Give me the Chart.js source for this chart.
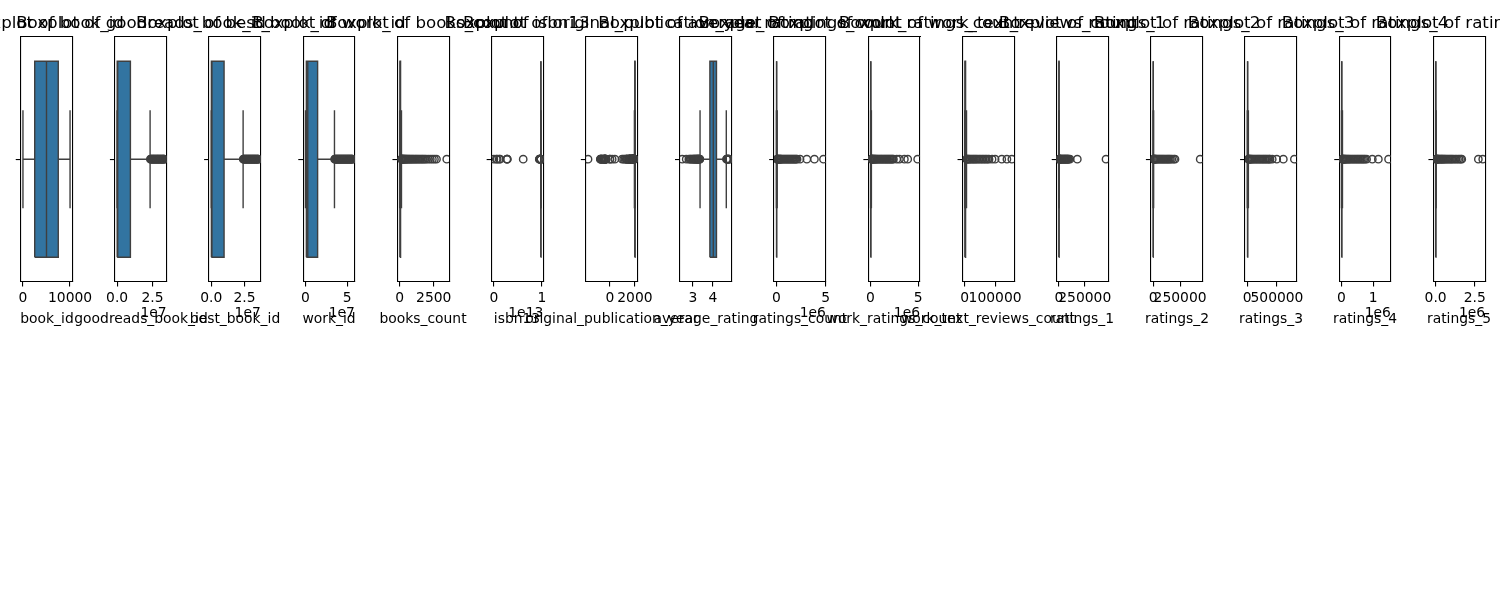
<!DOCTYPE html>
<html>
<head>
<meta charset="utf-8">
<script src="https://cdn.jsdelivr.net/npm/chart.js@4.4.0/dist/chart.umd.min.js"></script>
<style>
html,body{margin:0;padding:0;background:#fff;overflow:hidden;width:1500px;height:600px;}
#wrap{position:relative;width:1500px;height:600px;overflow:hidden;}
#wrap canvas{position:absolute;top:0;}
</style>
</head>
<body>
<div id="wrap"></div>
<script>
// ---------------- data ----------------
const columns = ['book_id','goodreads_book_id','best_book_id','work_id','books_count','isbn13',
  'original_publication_year','average_rating','ratings_count','work_ratings_count',
  'work_text_reviews_count','ratings_1','ratings_2','ratings_3','ratings_4','ratings_5'];

const whiskerLow  = [1, 1, 1, 87, 1, 9779540000000, 1959, 3.36, 2716, 5510, 3, 11, 30, 323, 750, 754];
const q1Values    = [2500, 46275, 47911, 1008841, 23, 9780316000000, 1990, 3.85, 13568, 15438, 694, 196, 656, 3112, 5405, 5334];
const medianValues= [5000, 394965, 425123, 2719524, 40, 9780452000000, 2004, 4.02, 21155, 23832, 1402, 391, 1163, 4894, 8269, 8836];
const q3Values    = [7500, 9382225, 9636112, 14517750, 67, 9780831000000, 2011, 4.18, 41053, 45915, 2744, 885, 2353, 9287, 16023, 17304];
const whiskerHigh = [10000, 23300000, 24000000, 34700000, 133, 9781600000000, 2017, 4.67, 82000, 91500, 5800, 1915, 4890, 18540, 31900, 35200];

const outliers0 = [];
const outliers1 = [23500000, 23900000, 24300000, 24700000, 25100000, 25500000, 25900000, 26300000, 26700000, 27100000,
  27500000, 27900000, 28300000, 28700000, 29100000, 29500000, 29900000, 30300000, 30700000, 31100000, 31500000,
  31900000, 32300000, 32700000, 33100000, 33288638];
const outliers2 = [24100000, 24500000, 24900000, 25300000, 25700000, 26100000, 26500000, 26900000, 27300000, 27700000,
  28100000, 28500000, 28900000, 29300000, 29700000, 30100000, 30500000, 30900000, 31300000, 31700000, 32100000,
  32500000, 32900000, 33300000, 33700000, 34100000, 34500000, 34900000, 35300000, 35534230];
const outliers3 = [34900000, 35500000, 36100000, 36700000, 37300000, 37900000, 38500000, 39100000, 39700000, 40300000,
  40900000, 41500000, 42100000, 42700000, 43300000, 43900000, 44500000, 45100000, 45700000, 46300000, 46900000,
  47500000, 48100000, 48700000, 49300000, 49900000, 50500000, 51100000, 51700000, 52300000, 52900000, 53500000,
  54100000, 54700000, 55300000, 55900000, 56399597];
const outliers4 = [135, 150, 170, 190, 215, 240, 270, 300, 340, 380, 420, 470, 520, 580, 640, 700, 770, 840, 910, 980,
  1060, 1140, 1220, 1300, 1390, 1480, 1570, 1660, 1750, 1850, 1950, 2100, 2250, 2400, 2550, 2700, 3455];
const outliers5 = [195000000, 500000000000, 700000000000, 1100000000000, 1300000000000, 2700000000000, 2750000000000,
  2800000000000, 6100000000000, 9450000000000, 9500000000000, 9550000000000, 9600000000000, 9650000000000,
  9700000000000, 9740000000000, 9770000000000, 9779000000000, 9782000000000, 9785000000000, 9790000000000];
const outliers6 = [-1750, -762, -750, -720, -700, -650, -600, -560, -500, -458, -441, -430, -411, -400, -385, -380,
  -350, -335, -300, -17, 8, 180, 397, 975, 1100, 1200, 1308, 1320, 1353, 1380, 1390, 1485, 1513, 1516, 1532, 1550,
  1580, 1595, 1600, 1605, 1615, 1623, 1650, 1667, 1678, 1700, 1719, 1726, 1740, 1750, 1759, 1770, 1782, 1790, 1800,
  1811, 1813, 1818, 1826, 1831, 1838, 1847, 1850, 1856, 1860, 1865, 1870, 1877, 1880, 1886, 1890, 1895, 1900, 1905,
  1910, 1915, 1920, 1925, 1930, 1935, 1940, 1945, 1950, 1955, 1958];
const outliers7 = [2.47, 2.67, 2.8, 2.86, 2.9, 2.95, 3.0, 3.03, 3.06, 3.09, 3.12, 3.15, 3.18, 3.2, 3.22, 3.24, 3.26,
  3.28, 3.3, 3.32, 3.34, 3.35, 4.68, 4.7, 4.72, 4.74, 4.76, 4.77, 4.8, 4.82];
const outliers8 = [85000, 100000, 130000, 160000, 200000, 250000, 300000, 350000, 400000, 450000, 500000, 600000,
  700000, 800000, 900000, 1000000, 1100000, 1200000, 1300000, 1400000, 1500000, 1600000, 1700000, 1800000, 1900000,
  2000000, 2100000, 2400000, 3090000, 3860000, 4780653];
const outliers9 = [93000, 110000, 140000, 170000, 210000, 260000, 310000, 360000, 420000, 480000, 540000, 620000,
  700000, 800000, 900000, 1000000, 1100000, 1200000, 1300000, 1400000, 1500000, 1600000, 1700000, 1800000, 1900000,
  2000000, 2100000, 2200000, 2300000, 2400000, 2750000, 3030000, 3550000, 3900000, 4942365];
const outliers10 = [6000, 8000, 10000, 13000, 16000, 20000, 24000, 28000, 32000, 36000, 40000, 45000, 50000, 55000,
  60000, 65000, 70000, 75000, 80000, 90000, 100000, 122000, 139000, 155254];
const outliers11 = [2000, 3000, 4500, 6000, 8000, 10000, 13000, 16000, 20000, 25000, 30000, 35000, 40000, 45000, 50000,
  55000, 60000, 65000, 70000, 75000, 80000, 85000, 90000, 95000, 107000, 178000, 456191];
const outliers12 = [5000, 7000, 9000, 12000, 15000, 20000, 25000, 30000, 40000, 50000, 60000, 70000, 80000, 90000,
  100000, 110000, 120000, 130000, 140000, 150000, 160000, 173000, 190000, 203000, 436802];
const outliers13 = [19000, 25000, 32000, 40000, 50000, 60000, 75000, 90000, 110000, 130000, 150000, 170000, 190000,
  210000, 230000, 250000, 270000, 290000, 310000, 330000, 350000, 370000, 383000, 420000, 496000, 607000, 793319];
const outliers14 = [32500, 40000, 50000, 65000, 80000, 100000, 120000, 140000, 170000, 200000, 230000, 260000, 300000,
  340000, 380000, 420000, 460000, 500000, 540000, 580000, 620000, 660000, 700000, 740000, 790000, 970000, 1160000,
  1481305];
const outliers15 = [36000, 45000, 60000, 80000, 100000, 130000, 160000, 200000, 250000, 300000, 350000, 400000, 450000,
  500000, 560000, 620000, 700000, 780000, 860000, 940000, 1020000, 1100000, 1200000, 1300000, 1400000, 1500000,
  1600000, 1670000, 2730000, 3011543];
const outlierLists = [outliers0, outliers1, outliers2, outliers3, outliers4, outliers5, outliers6, outliers7,
  outliers8, outliers9, outliers10, outliers11, outliers12, outliers13, outliers14, outliers15];

const tickValues = [[0, 10000], [0, 25000000], [0, 25000000], [0, 50000000], [0, 2500], [0, 10000000000000],
  [0, 2000], [3, 4], [0, 5000000], [0, 5000000], [0, 100000], [0, 250000], [0, 250000], [0, 500000],
  [0, 1000000], [0, 2500000]];
const tickLabels = [['0','10000'], ['0.0','2.5'], ['0.0','2.5'], ['0','5'], ['0','2500'], ['0','1'],
  ['0','2000'], ['3','4'], ['0','5'], ['0','5'], ['0','100000'], ['0','250000'], ['0','250000'], ['0','500000'],
  ['0','1'], ['0.0','2.5']];
const offsetLabels = ['', '1e7', '1e7', '1e7', '', '1e13', '', '', '1e6', '1e6', '', '', '', '', '1e6', '1e6'];

// ---------------- layout / style ----------------
const FONT = 'DejaVu Sans';
const FRAME_LEFT0 = 20.6, FRAME_STEP = 94.18, FRAME_W = 51.8;
const FRAME_TOP = 36.7, FRAME_BOTTOM = 281.7;
const CANVAS_W = 460, CANVAS_H = 600;
const X_AXIS_H = 23;
const TITLE_PAD = {top: 13.4, bottom: 3.3};
const XLABEL_PAD = {top: 6.2, bottom: 0};
const TICK_FS = 13.89, TITLE_FS = 16.67;
const LINE_GRAY = '#3f3f3f';
const BOX_FILL = '#3274a1';
const AX_W = 1.1;

const offsetTextPlugin = {
  id: 'offsetText',
  afterDraw(chart, args, opts) {
    if (!opts.text) return;
    const ctx = chart.ctx;
    ctx.save();
    ctx.font = TICK_FS + 'px "' + FONT + '"';
    ctx.fillStyle = '#000';
    ctx.textAlign = 'right';
    ctx.textBaseline = 'alphabetic';
    ctx.fillText(opts.text, chart.chartArea.right, opts.baseline);
    ctx.restore();
  }
};

const wrap = document.getElementById('wrap');

columns.forEach((col, i) => {
  const frameLeft = FRAME_LEFT0 + FRAME_STEP * i;
  const cx = frameLeft + FRAME_W / 2;
  const canvasLeft = Math.round(cx - CANVAS_W / 2);
  const leftW = frameLeft - canvasLeft;
  const rightW = CANVAS_W - leftW - FRAME_W;

  const canvas = document.createElement('canvas');
  canvas.width = CANVAS_W;
  canvas.height = CANVAS_H;
  canvas.style.width = CANVAS_W + 'px';
  canvas.style.height = CANVAS_H + 'px';
  canvas.style.left = canvasLeft + 'px';
  wrap.appendChild(canvas);

  const outs = outlierLists[i];
  const lo = Math.min(whiskerLow[i], ...outs);
  const hi = Math.max(whiskerHigh[i], ...outs);
  const margin = (hi - lo) * 0.05;

  const q1 = q1Values[i], q3 = q3Values[i], med = medianValues[i];
  const wl = whiskerLow[i], wh = whiskerHigh[i];

  const xlabelH = TICK_FS * 1.2 + XLABEL_PAD.top + XLABEL_PAD.bottom;
  const padBottom = CANVAS_H - FRAME_BOTTOM - X_AXIS_H - xlabelH;

  const lineDs = (label, pts) => ({
    label, data: pts, showLine: true, borderColor: LINE_GRAY, borderWidth: 1.4,
    pointRadius: 0, pointHoverRadius: 0, fill: false, clip: 0
  });

  const datasets = [
    {
      label: 'outliers',
      data: outs.map(v => ({x: v, y: 0})),
      showLine: false,
      pointStyle: 'circle',
      pointRadius: 3.7,
      pointHoverRadius: 3.7,
      pointBorderWidth: 1.4,
      borderColor: LINE_GRAY,
      backgroundColor: 'rgba(0,0,0,0)',
      pointBorderColor: LINE_GRAY,
      pointBackgroundColor: 'rgba(0,0,0,0)',
      clip: 0
    },
    lineDs('median', [{x: med, y: -0.4}, {x: med, y: 0.4}]),
    lineDs('box', [{x: q1, y: -0.4}, {x: q3, y: -0.4}, {x: q3, y: 0.4}, {x: q1, y: 0.4}, {x: q1, y: -0.4}]),
    {
      label: 'box fill top', data: [{x: q1, y: 0.4}, {x: q3, y: 0.4}], showLine: true,
      borderWidth: 0, borderColor: 'rgba(0,0,0,0)', backgroundColor: BOX_FILL,
      pointRadius: 0, pointHoverRadius: 0, fill: '+1', clip: 0
    },
    {
      label: 'box fill bottom', data: [{x: q1, y: -0.4}, {x: q3, y: -0.4}], showLine: true,
      borderWidth: 0, borderColor: 'rgba(0,0,0,0)', backgroundColor: 'rgba(0,0,0,0)',
      pointRadius: 0, pointHoverRadius: 0, fill: false, clip: 0
    },
    lineDs('lower whisker', [{x: wl, y: 0}, {x: q1, y: 0}]),
    lineDs('upper whisker', [{x: q3, y: 0}, {x: wh, y: 0}]),
    lineDs('lower cap', [{x: wl, y: -0.2}, {x: wl, y: 0.2}]),
    lineDs('upper cap', [{x: wh, y: -0.2}, {x: wh, y: 0.2}])
  ];

  new Chart(canvas, {
    type: 'scatter',
    data: {datasets},
    plugins: [offsetTextPlugin],
    options: {
      responsive: false,
      animation: false,
      devicePixelRatio: 1,
      events: [],
      layout: {padding: {left: 0, right: 0, top: 0, bottom: padBottom}},
      plugins: {
        legend: {display: false},
        tooltip: {enabled: false},
        title: {
          display: true, text: 'Boxplot of ' + col, color: '#000',
          font: {family: FONT, size: TITLE_FS, weight: 'normal', lineHeight: 1.2},
          padding: TITLE_PAD
        },
        subtitle: {
          display: true, position: 'bottom', text: col, color: '#000',
          font: {family: FONT, size: TICK_FS, weight: 'normal', lineHeight: 1.2},
          padding: XLABEL_PAD
        },
        offsetText: {text: offsetLabels[i], baseline: 316.5}
      },
      scales: {
        x: {
          type: 'linear', position: 'bottom',
          min: lo - margin, max: hi + margin,
          afterBuildTicks: s => { s.ticks = tickValues[i].map(v => ({value: v})); },
          afterFit: s => { s.height = X_AXIS_H; },
          ticks: {
            display: true, autoSkip: false, maxRotation: 0, minRotation: 0, padding: 3.2,
            color: '#000', font: {family: FONT, size: TICK_FS},
            callback: (v, idx) => tickLabels[i][idx]
          },
          grid: {display: true, drawOnChartArea: false, drawTicks: true, tickLength: 4.86,
                 color: '#000', lineWidth: AX_W, tickColor: '#000', tickWidth: AX_W},
          border: {display: true, color: '#000', width: AX_W}
        },
        x2: {
          type: 'linear', position: 'top', axis: 'x',
          min: lo - margin, max: hi + margin,
          afterFit: s => { s.height = 0; },
          ticks: {display: false},
          grid: {display: false},
          border: {display: true, color: '#000', width: AX_W}
        },
        y: {
          type: 'linear', position: 'left', min: -0.5, max: 0.5,
          afterBuildTicks: s => { s.ticks = [{value: 0}]; },
          afterFit: s => { s.width = leftW; },
          ticks: {display: false},
          grid: {display: true, drawOnChartArea: false, drawTicks: true, tickLength: 4.86,
                 color: '#000', lineWidth: AX_W, tickColor: '#000', tickWidth: AX_W},
          border: {display: true, color: '#000', width: AX_W}
        },
        y2: {
          type: 'linear', position: 'right', axis: 'y', min: -0.5, max: 0.5,
          afterFit: s => { s.width = rightW; },
          ticks: {display: false},
          grid: {display: false},
          border: {display: true, color: '#000', width: AX_W}
        }
      }
    }
  });
});
</script>
</body>
</html>
